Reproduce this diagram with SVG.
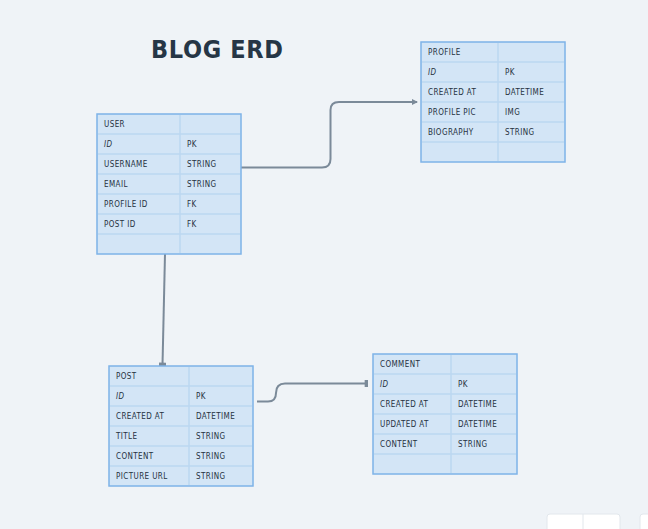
<svg xmlns="http://www.w3.org/2000/svg" width="648" height="529" viewBox="0 0 648 529">
<defs>
<style>
.bg{fill:#eff3f7}
.tbl{fill:#d3e5f6;stroke:#7eb3e8;stroke-width:1.5}
.sep{stroke:#bcd7f1;stroke-width:1.5}
.t{font-family:"DejaVu Sans Condensed","DejaVu Sans",sans-serif;font-size:8px;fill:#26323f;letter-spacing:0.4px}
.it{font-style:italic}
.title{font-family:"DejaVu Sans Condensed","DejaVu Sans",sans-serif;font-weight:bold;font-size:25px;fill:#263646}
.con{fill:none;stroke:#7b8a99;stroke-width:2}
.ui{fill:#ffffff;stroke:#e2e7ec;stroke-width:1}
</style>
<marker id="arr" viewBox="0 0 6 6" refX="5" refY="3" markerWidth="3" markerHeight="3" orient="auto"><path d="M0,0 L6,3 L0,6 z" fill="#7b8a99"/></marker>
<marker id="bar" viewBox="0 0 4 6" refX="3" refY="3" markerWidth="2.5" markerHeight="3.5" orient="auto"><rect x="1" y="0" width="3" height="6" fill="#7b8a99"/></marker>
</defs>
<rect class="bg" x="0" y="0" width="648" height="529"/>
<text class="title" x="151" y="57.5" textLength="132" lengthAdjust="spacing">BLOG ERD</text>

<g id="connectors">
<path class="con" d="M241,167.5 H322 Q330.5,167.5 330.5,159 V110 Q330.5,102 339,102 H417" marker-end="url(#arr)"/>
<path class="con" d="M165,254 L162.5,365" marker-end="url(#bar)"/>
<path class="con" d="M257,401.5 H268 Q276,401.5 276,393 Q276,383.5 285,383.5 H367" marker-end="url(#bar)"/>
</g>

<g id="user">
<rect class="tbl" x="97" y="114" width="144" height="140"/>
<path class="sep" d="M98,134H240M98,154H240M98,174H240M98,194H240M98,214H240M98,234H240M180,115V253"/>
<text class="t" x="104" y="127">USER</text>
<text class="t it" x="104" y="147">ID</text><text class="t" x="187" y="147">PK</text>
<text class="t" x="104" y="167">USERNAME</text><text class="t" x="187" y="167">STRING</text>
<text class="t" x="104" y="187">EMAIL</text><text class="t" x="187" y="187">STRING</text>
<text class="t" x="104" y="207">PROFILE ID</text><text class="t" x="187" y="207">FK</text>
<text class="t" x="104" y="227">POST ID</text><text class="t" x="187" y="227">FK</text>
</g>

<g id="profile">
<rect class="tbl" x="421" y="42" width="144" height="120"/>
<path class="sep" d="M422,62H564M422,82H564M422,102H564M422,122H564M422,142H564M498,43V161"/>
<text class="t" x="428" y="55">PROFILE</text>
<text class="t it" x="428" y="75">ID</text><text class="t" x="505" y="75">PK</text>
<text class="t" x="428" y="95">CREATED AT</text><text class="t" x="505" y="95">DATETIME</text>
<text class="t" x="428" y="115">PROFILE PIC</text><text class="t" x="505" y="115">IMG</text>
<text class="t" x="428" y="135">BIOGRAPHY</text><text class="t" x="505" y="135">STRING</text>
</g>

<g id="post">
<rect class="tbl" x="109" y="366" width="144" height="120"/>
<path class="sep" d="M110,386H252M110,406H252M110,426H252M110,446H252M110,466H252M189,367V485"/>
<text class="t" x="116" y="379">POST</text>
<text class="t it" x="116" y="399">ID</text><text class="t" x="196" y="399">PK</text>
<text class="t" x="116" y="419">CREATED AT</text><text class="t" x="196" y="419">DATETIME</text>
<text class="t" x="116" y="439">TITLE</text><text class="t" x="196" y="439">STRING</text>
<text class="t" x="116" y="459">CONTENT</text><text class="t" x="196" y="459">STRING</text>
<text class="t" x="116" y="479">PICTURE URL</text><text class="t" x="196" y="479">STRING</text>
</g>

<g id="comment">
<rect class="tbl" x="373" y="354" width="144" height="120"/>
<path class="sep" d="M374,374H516M374,394H516M374,414H516M374,434H516M374,454H516M451,355V473"/>
<text class="t" x="380" y="367">COMMENT</text>
<text class="t it" x="380" y="387">ID</text><text class="t" x="458" y="387">PK</text>
<text class="t" x="380" y="407">CREATED AT</text><text class="t" x="458" y="407">DATETIME</text>
<text class="t" x="380" y="427">UPDATED AT</text><text class="t" x="458" y="427">DATETIME</text>
<text class="t" x="380" y="447">CONTENT</text><text class="t" x="458" y="447">STRING</text>
</g>

<rect class="ui" x="547" y="514" width="73" height="24" rx="3"/>
<path d="M583,514V529" stroke="#e2e7ec" stroke-width="1"/>
<rect class="ui" x="640" y="514" width="20" height="24" rx="3"/>
</svg>
